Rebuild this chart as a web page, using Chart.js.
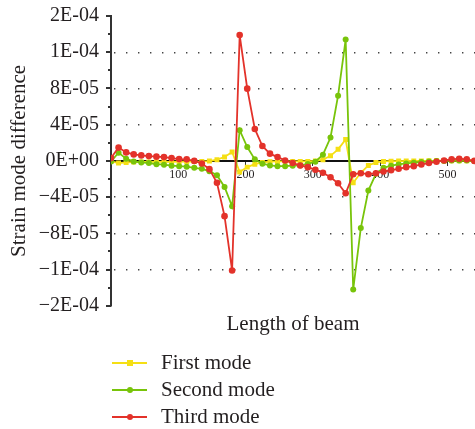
<!DOCTYPE html>
<html><head><meta charset="utf-8">
<script src="https://cdn.jsdelivr.net/npm/chart.js@4"></script>
<style>
html,body{margin:0;padding:0;background:#fff;}
#wrap{position:relative;width:475px;height:429px;overflow:hidden;}
#c{position:absolute;left:0;top:0;}
.legend{position:absolute;left:112px;top:349px;font-family:'Liberation Serif',serif;font-size:21px;color:#231f20;}
.row{height:27px;display:flex;align-items:center;}
.line{width:35px;height:2px;position:relative;margin-right:14px;}
.mk{position:absolute;left:50%;top:50%;transform:translate(-50%,-50%);}
</style></head>
<body>
<div id="wrap">
<canvas id="c" width="475" height="429"></canvas>
<div class="legend" id="legend"></div>
</div>
<script>
const positions = [0, 11.25, 22.5, 33.75, 45, 56.25, 67.5, 78.75, 90, 101.25,
  112.5, 123.75, 135, 146.25, 157.5, 168.75, 180, 191.25, 202.5, 213.75,
  225, 236.25, 247.5, 258.75, 270, 281.25, 292.5, 303.75, 315, 326.25,
  337.5, 348.75, 360, 371.25, 382.5, 393.75, 405, 416.25, 427.5, 438.75,
  450, 461.25, 472.5, 483.75, 495, 506.25, 517.5, 528.75, 540];

const firstMode = [-0.6e-6, -2.4e-6, -1.7e-6, -1.3e-6, -1.1e-6, -1.1e-6, -1.1e-6, -1.0e-6, -1.0e-6, -0.9e-6,
  -0.8e-6, -0.7e-6, -0.6e-6, -0.2e-6, 1.3e-6, 4.4e-6, 9.8e-6, -1.22e-5, -6.9e-6, -3.6e-6,
  -1.7e-6, -0.9e-6, -0.6e-6, -0.5e-6, -0.6e-6, -0.6e-6, -0.5e-6, 0, 1.3e-6, 5.6e-6,
  1.28e-5, 2.36e-5, -2.42e-5, -1.31e-5, -5.0e-6, -1.7e-6, -0.6e-6, -0.3e-6, -0.2e-6, -0.1e-6,
  0, 0, 0.1e-6, 0.1e-6, 0.2e-6, 0.2e-6, 0.2e-6, 0.2e-6, 0];

const secondMode = [-0.6e-6, 9.1e-6, 2.4e-6, -0.6e-6, -1.7e-6, -2.4e-6, -3.6e-6, -4.2e-6, -5.3e-6, -5.8e-6,
  -6.4e-6, -7.6e-6, -8.7e-6, -1.13e-5, -1.58e-5, -2.87e-5, -5.02e-5, 3.39e-5, 1.53e-5, 1.7e-6,
  -3.1e-6, -5.0e-6, -5.8e-6, -5.8e-6, -5.3e-6, -5.0e-6, -3.3e-6, -0.9e-6, 6.9e-6, 2.58e-5,
  7.2e-5, 1.34e-4, -1.42e-4, -7.42e-5, -3.28e-5, -1.42e-5, -7.6e-6, -5.3e-6, -3.9e-6, -2.8e-6,
  -2.0e-6, -1.3e-6, -0.6e-6, -0.2e-6, 0, 0.5e-6, 0.5e-6, 0.5e-6, -0.2e-6];

const thirdMode = [3.1e-6, 1.47e-5, 9.4e-6, 7.2e-6, 6.1e-6, 5.3e-6, 4.7e-6, 4.2e-6, 3.1e-6, 2.0e-6,
  1.7e-6, 0, -2.8e-6, -9.1e-6, -2.42e-5, -6.1e-5, -1.21e-4, 1.39e-4, 7.98e-5, 3.53e-5,
  1.64e-5, 8.0e-6, 4.2e-6, 0.5e-6, -2.4e-6, -5.0e-6, -6.9e-6, -9.8e-6, -1.31e-5, -1.8e-5,
  -2.47e-5, -3.58e-5, -1.47e-5, -1.36e-5, -1.47e-5, -1.36e-5, -1.17e-5, -1.02e-5, -8.7e-6, -6.9e-6,
  -5.8e-6, -3.9e-6, -2.4e-6, -0.9e-6, 0.5e-6, 1.7e-6, 2.4e-6, 1.7e-6, 0];

const seriesNames = ['First mode', 'Second mode', 'Third mode'];
const seriesColors = ['#f5df14', '#78c40a', '#e3322a'];
const xTickValues = [100, 200, 300, 400, 500];
const yMajorTicks = [-1.6e-4, -1.2e-4, -8e-5, -4e-5, 0, 4e-5, 8e-5, 1.2e-4, 1.6e-4];
const yMinorTicks = [-1.4e-4, -1e-4, -6e-5, -2e-5, 2e-5, 6e-5, 1e-4, 1.4e-4];

const FONT = "'Liberation Serif', 'Times New Roman', serif";
const TXT = '#231f20';
const PLOT_TOP = 16;

function fmtE(v){
  if (Math.abs(v) < 1e-12) return '0E+00';
  const s = Math.abs(v).toExponential(0);
  const parts = s.split('e');
  const en = parseInt(parts[1], 10);
  const es = (en < 0 ? '-' : '+') + String(Math.abs(en)).padStart(2, '0');
  return (v < 0 ? '\u2212' : '') + parts[0] + 'E' + es;
}

function pts(arr){ return arr.map((v, i) => ({x: positions[i], y: v})); }

const fixTop = {
  id: 'fixTop',
  afterLayout(chart){
    const y = chart.scales.y;
    y.top = PLOT_TOP;
    y.height = y.bottom - y.top;
    y.configure();
    chart.chartArea.top = PLOT_TOP;
    chart.chartArea.height = chart.chartArea.bottom - PLOT_TOP;
  }
};

const minorTicks = {
  id: 'minorTicks',
  afterDraw(chart){
    const y = chart.scales.y, ctx = chart.ctx;
    ctx.save();
    ctx.strokeStyle = '#333';
    ctx.lineWidth = 2;
    yMajorTicks.forEach(v => {
      const py = Math.round(y.getPixelForValue(v));
      ctx.beginPath(); ctx.moveTo(y.right - 5, py); ctx.lineTo(y.right, py); ctx.stroke();
    });
    yMinorTicks.forEach(v => {
      const py = Math.round(y.getPixelForValue(v));
      ctx.beginPath(); ctx.moveTo(y.right - 3, py); ctx.lineTo(y.right, py); ctx.stroke();
    });
    ctx.restore();
  }
};

const styles = ['rect', 'circle', 'circle'];
const radii = [3.5, 3, 3.3];
const orders = [2, 1, 0];
const data = [firstMode, secondMode, thirdMode];

new Chart(document.getElementById('c'), {
  type: 'line',
  data: {
    datasets: data.map((d, k) => ({
      label: seriesNames[k],
      data: pts(d),
      borderColor: seriesColors[k],
      backgroundColor: seriesColors[k],
      borderWidth: 1.8,
      pointStyle: styles[k],
      pointRadius: radii[k],
      pointBorderWidth: 0,
      tension: 0,
      order: orders[k]
    }))
  },
  options: {
    responsive: false,
    animation: false,
    layout: { autoPadding: false, padding: { top: 16, bottom: 86, left: 0, right: 0 } },
    plugins: {
      legend: { display: false },
      tooltip: { enabled: false },
      title: {
        display: true, position: 'bottom', fullSize: false,
        text: 'Length of beam', color: TXT,
        font: { family: FONT, size: 21, weight: 'normal' },
        padding: { top: 6, bottom: 6 }
      }
    },
    scales: {
      x: {
        type: 'linear', min: 0, max: 541,
        position: { y: 0 },
        afterBuildTicks: s => { s.ticks = xTickValues.map(v => ({ value: v })); },
        border: { display: true, color: '#111', width: 2 },
        grid: { drawOnChartArea: false, drawTicks: true, tickLength: 4, color: '#333', tickWidth: 1 },
        ticks: { color: TXT, font: { family: FONT, size: 12 }, padding: 3, maxRotation: 0, autoSkip: false,
          callback: v => String(v) }
      },
      y: {
        min: -1.6e-4, max: 1.6e-4,
        afterBuildTicks: s => { s.ticks = yMajorTicks.map(v => ({ value: v })); },
        afterFit: s => { s.width = 111; },
        border: { display: true, color: '#333', width: 2, dash: [1.4, 10.6], dashOffset: -2 },
        grid: {
          drawTicks: false,
          lineWidth: 1.4,
          color: c => {
            const v = c.tick ? c.tick.value : 0;
            return (Math.abs(v) > 1e-9 && Math.abs(Math.abs(v) - 1.6e-4) > 1e-9) ? '#444' : 'rgba(0,0,0,0)';
          }
        },
        ticks: { color: TXT, font: { family: FONT, size: 20 }, padding: 12, callback: v => fmtE(v) },
        title: { display: true, text: 'Strain mode difference', color: TXT,
          font: { family: FONT, size: 21 }, padding: { top: 7, bottom: 0 } }
      }
    }
  },
  plugins: [fixTop, minorTicks]
});

// HTML legend
const lg = document.getElementById('legend');
seriesNames.forEach((name, k) => {
  const row = document.createElement('div'); row.className = 'row';
  const line = document.createElement('div'); line.className = 'line';
  line.style.background = seriesColors[k];
  const mk = document.createElement('div'); mk.className = 'mk';
  mk.style.width = '6px'; mk.style.height = '6px';
  mk.style.background = seriesColors[k];
  if (k > 0) mk.style.borderRadius = '50%';
  line.appendChild(mk);
  const t = document.createElement('span'); t.textContent = name;
  row.appendChild(line); row.appendChild(t);
  lg.appendChild(row);
});
</script>
</body></html>
